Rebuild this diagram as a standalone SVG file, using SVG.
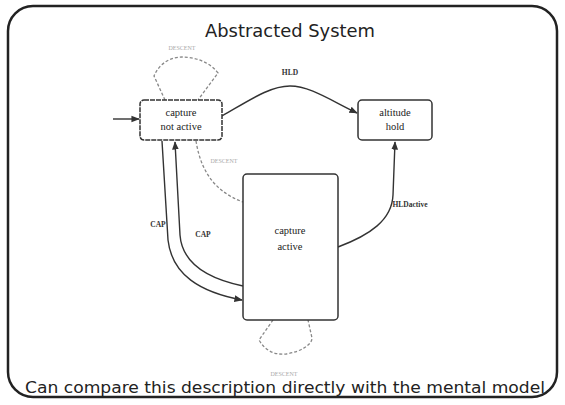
<svg xmlns="http://www.w3.org/2000/svg" width="565" height="405" viewBox="0 0 565 405">
<defs>
<marker id="arr" viewBox="0 0 10 10" refX="9" refY="5" markerWidth="6" markerHeight="6" orient="auto"><path d="M0,1 L10,5 L0,9 z" fill="#333"/></marker>
<style>
.node{fill:#fff;stroke:#333;stroke-width:1.5}
.nt{font-family:"Liberation Serif",serif;font-size:10.5px;fill:#222;text-anchor:middle}
.el{font-family:"Liberation Serif",serif;font-size:7.5px;font-weight:bold;fill:#333;text-anchor:middle}
.fl{font-family:"Liberation Serif",serif;font-size:6px;fill:#aaa;text-anchor:middle}
.c{fill:none;stroke:#333;stroke-width:1.4}
.d{fill:none;stroke:#888;stroke-width:1.3;stroke-dasharray:3,2}
</style>
</defs>
<rect x="8" y="6" width="549" height="391" rx="25" fill="#fff" stroke="#222" stroke-width="2.5"/>
<text x="290" y="37" font-family="DejaVu Sans,sans-serif" font-size="17" font-weight="500" text-anchor="middle" fill="#222" textLength="170" lengthAdjust="spacingAndGlyphs">Abstracted System</text>
<text x="285" y="393" font-family="DejaVu Sans,sans-serif" font-size="16" text-anchor="middle" fill="#222" textLength="520" lengthAdjust="spacingAndGlyphs">Can compare this description directly with the mental model</text>
<g id="connectors">
<path class="c" d="M113,119 L139,119" marker-end="url(#arr)"/>
<path class="c" d="M222,116 C250,100 270,86 290,86 C310,86 330,100 357,113" marker-end="url(#arr)"/>
<text class="el" x="290" y="75">HLD</text>
<path class="c" d="M338,247 C370,235 392,220 393,195 L395,142" marker-end="url(#arr)"/>
<text class="el" x="410" y="207">HLDactive</text>
<path class="c" d="M162,141 L168,240 C172,275 200,292 242,300" marker-end="url(#arr)"/>
<text class="el" x="158" y="227">CAP</text>
<path class="c" d="M243,286 C205,278 182,262 180,235 L175,142" marker-end="url(#arr)"/>
<text class="el" x="203" y="237">CAP</text>
<path class="d" d="M196,141 C200,165 210,190 243,202"/>
<text class="fl" x="224" y="163">DESCENT</text>
<path class="d" d="M165,100 L154,76 C160,62 172,57 182,57 C195,57 210,62 218,73 L198,100"/>
<text class="fl" x="182" y="50">DESCENT</text>
<path class="d" d="M273,320 L259,340 C266,352 276,355 286,354 C300,352 312,345 312,338 L308,320"/>
<text class="fl" x="284" y="376">DESCENT</text>
</g>
<g id="capture-not-active">
<rect class="node" x="140" y="100" width="82" height="40" rx="4" stroke-dasharray="5,1"/>
<text class="nt" x="181" y="116">capture</text>
<text class="nt" x="181" y="130">not active</text>
</g>
<g id="altitude-hold">
<rect class="node" x="358" y="100" width="74" height="40" rx="4"/>
<text class="nt" x="395" y="116">altitude</text>
<text class="nt" x="395" y="130">hold</text>
</g>
<g id="capture-active">
<rect class="node" x="243" y="174" width="95" height="146" rx="4"/>
<text class="nt" x="290" y="234">capture</text>
<text class="nt" x="290" y="250">active</text>
</g>
</svg>
